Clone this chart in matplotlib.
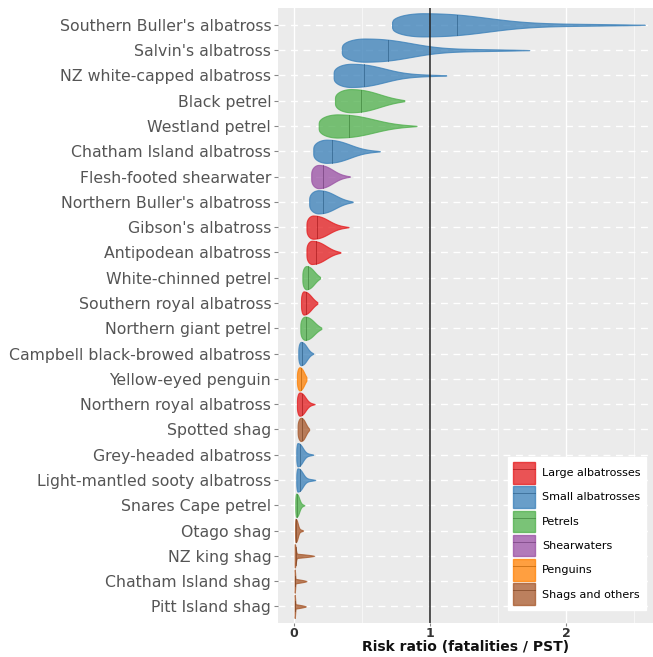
"""Violin plot of seabird risk ratios (fatalities / PST) by species"""

import numpy as np
import matplotlib.pyplot as plt
from matplotlib.colors import to_rgb
from matplotlib.patches import Patch
from matplotlib.lines import Line2D

species = [
    "Southern Buller's albatross", "Salvin's albatross", "NZ white-capped albatross",
    "Black petrel", "Westland petrel", "Chatham Island albatross",
    "Flesh-footed shearwater", "Northern Buller's albatross", "Gibson's albatross",
    "Antipodean albatross", "White-chinned petrel", "Southern royal albatross",
    "Northern giant petrel", "Campbell black-browed albatross", "Yellow-eyed penguin",
    "Northern royal albatross", "Spotted shag", "Grey-headed albatross",
    "Light-mantled sooty albatross", "Snares Cape petrel", "Otago shag",
    "NZ king shag", "Chatham Island shag", "Pitt Island shag",
]
group = [
    "Small albatrosses", "Small albatrosses", "Small albatrosses",
    "Petrels", "Petrels", "Small albatrosses",
    "Shearwaters", "Small albatrosses", "Large albatrosses",
    "Large albatrosses", "Petrels", "Large albatrosses",
    "Petrels", "Small albatrosses", "Penguins",
    "Large albatrosses", "Shags and others", "Small albatrosses",
    "Small albatrosses", "Petrels", "Shags and others",
    "Shags and others", "Shags and others", "Shags and others",
]

# posterior summaries: minimum, mode, half-density point, median, maximum
risk_min = [0.72, 0.35, 0.29, 0.30, 0.18, 0.14, 0.125, 0.11, 0.09, 0.09, 0.06, 0.05,
            0.045, 0.03, 0.02, 0.02, 0.025, 0.015, 0.015, 0.008, 0.006, 0.003, 0.003, 0.003]
risk_mode = [0.95, 0.52, 0.42, 0.42, 0.32, 0.24, 0.18, 0.18, 0.14, 0.13, 0.09, 0.07,
             0.08, 0.05, 0.04, 0.04, 0.05, 0.025, 0.025, 0.015, 0.01, 0.003, 0.003, 0.003]
risk_half = [1.45, 0.88, 0.68, 0.64, 0.60, 0.42, 0.29, 0.31, 0.26, 0.24, 0.15, 0.13,
             0.15, 0.095, 0.075, 0.085, 0.085, 0.065, 0.065, 0.038, 0.027, 0.012, 0.007, 0.007]
risk_median = [1.20, 0.69, 0.51, 0.49, 0.40, 0.28, 0.21, 0.21, 0.17, 0.16, 0.10, 0.09,
               0.09, 0.06, 0.05, 0.06, 0.06, 0.04, 0.04, 0.02, 0.015, 0.01, 0.008, 0.008]
risk_max = [2.58, 1.73, 1.12, 0.81, 0.90, 0.63, 0.41, 0.43, 0.40, 0.34, 0.19, 0.17,
            0.20, 0.14, 0.09, 0.15, 0.11, 0.14, 0.155, 0.075, 0.065, 0.145, 0.09, 0.085]

group_colors = {
    "Large albatrosses": "#e41a1c",
    "Small albatrosses": "#377eb8",
    "Petrels": "#4daf4a",
    "Shearwaters": "#984ea3",
    "Penguins": "#ff7f00",
    "Shags and others": "#a65628",
}

VIOLIN_WIDTH = 0.92
ALPHA = 0.75


def density_profile(lo, mode, half, hi, n=300):
    """Relative density along the risk axis for one species."""
    x = np.linspace(lo, hi, n)
    d = np.empty_like(x)
    left = x < mode
    t = (mode - x[left]) / max(mode - lo, 1e-9)
    d[left] = 0.25 + 0.75 * np.sqrt(1 - t ** 2)
    r = x[~left] - mode
    body = np.exp(-np.log(2) * (r / max(half - mode, 1e-9)) ** 2.5)
    u = r / max(hi - mode, 1e-9)
    tail = 0.2 * (1 - u) ** 0.7
    d[~left] = body * 0.8 + tail
    return x, d


def darker(c, f=0.7):
    return tuple(v * f for v in to_rgb(c))


fig = plt.figure(figsize=(6.53, 6.57), dpi=100)
ax = fig.add_axes([0.426, 0.052, 0.574, 0.936])
ax.set_facecolor("#ebebeb")

positions = np.arange(len(species))
stats = []
for i in range(len(species)):
    coords, vals = density_profile(risk_min[i], risk_mode[i], risk_half[i], risk_max[i])
    stats.append({"coords": coords, "vals": vals, "mean": risk_median[i],
                  "median": risk_median[i], "min": risk_min[i], "max": risk_max[i]})

parts = ax.violin(stats, positions=positions, orientation="horizontal",
                  widths=VIOLIN_WIDTH, showmeans=False, showextrema=False,
                  showmedians=False)
for body, g in zip(parts["bodies"], group):
    body.set_facecolor(group_colors[g])
    body.set_edgecolor(group_colors[g])
    body.set_alpha(ALPHA)
    body.set_linewidth(0.8)
    body.set_zorder(3)

# median line spanning the local density
for i, st in enumerate(stats):
    w = np.interp(st["median"], st["coords"], st["vals"]) / st["vals"].max()
    h = 0.5 * VIOLIN_WIDTH * w
    ax.plot([st["median"]] * 2, [positions[i] - h, positions[i] + h],
            color=darker(group_colors[group[i]]), lw=0.7, alpha=0.6, zorder=4)

ax.axvline(1, color="#222222", lw=1.1, zorder=5)

ax.set_xlim(-0.118, 2.64)
ax.set_ylim(len(species) - 0.35, -0.67)
ax.set_xticks([0, 1, 2])
ax.set_xticks([0.5, 1.5, 2.5], minor=True)
ax.set_yticks(positions)
ax.set_yticklabels(species, fontsize=11.3, color="#555555")
ax.tick_params(axis="y", length=3, color="#888888", pad=2)
ax.tick_params(axis="x", which="major", length=2, color="#888888", pad=1,
               labelsize=9, labelcolor="#333333")
ax.tick_params(axis="x", which="minor", length=0)
for lab in ax.get_xticklabels():
    lab.set_fontweight("bold")

ax.grid(axis="x", which="major", color="white", lw=1.0, zorder=0)
ax.grid(axis="x", which="minor", color="white", lw=0.6, alpha=0.7, zorder=0)
ax.grid(axis="y", color="white", lw=1.0, ls=(0, (5, 4)), zorder=0)
ax.set_axisbelow(True)
for spine in ax.spines.values():
    spine.set_visible(False)

ax.set_xlabel("Risk ratio (fatalities / PST)", fontsize=10, fontweight="bold",
              color="#111111", labelpad=0)

handles = []
for g, c in group_colors.items():
    handles.append((Patch(facecolor=c, edgecolor=c, alpha=ALPHA),
                    Line2D([], [], color=darker(c), lw=0.7, alpha=0.6)))
ax.legend(handles, list(group_colors), loc="lower right", fontsize=8,
          frameon=True, facecolor="white", edgecolor="white", framealpha=1,
          fancybox=False, handlelength=2.0, handleheight=2.6, labelspacing=0.25,
          borderpad=0.45, handletextpad=0.6, bbox_to_anchor=(0.995, 0.012))

fig.savefig("out.png", dpi=100)
